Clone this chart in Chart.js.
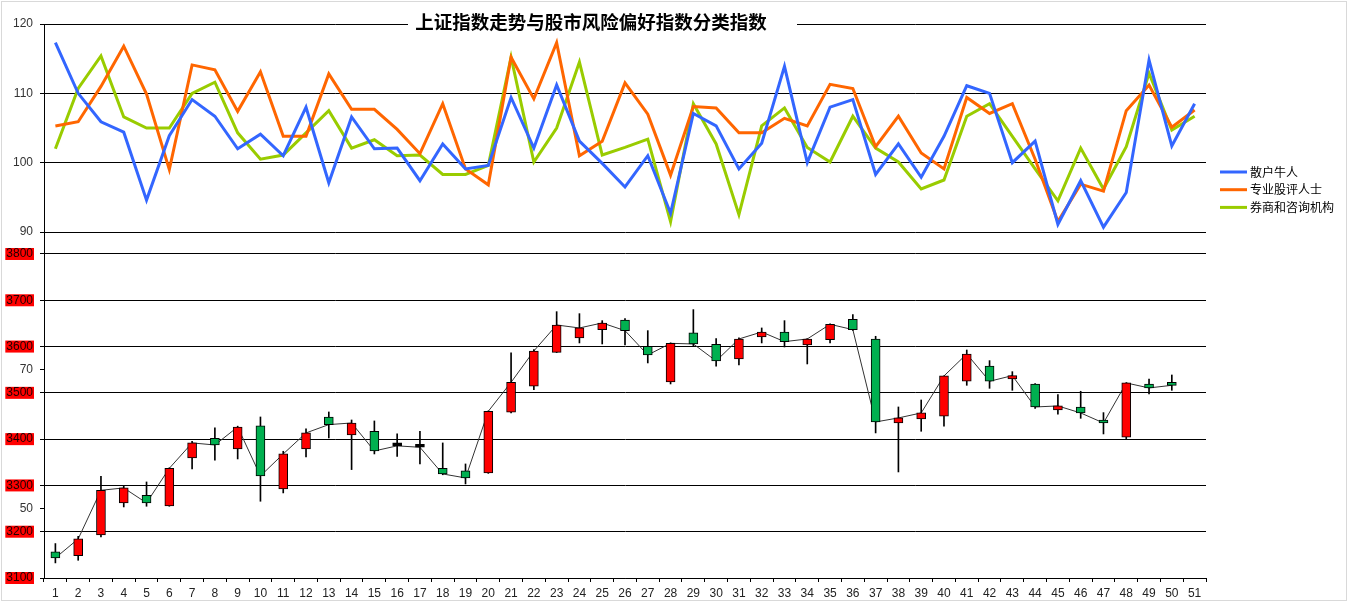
<!DOCTYPE html>
<html>
<head>
<meta charset="utf-8">
<script src="https://cdn.jsdelivr.net/npm/chart.js@4.4.1/dist/chart.umd.min.js"></script>
<style>
  body { margin: 0; background: #fff; }
  #wrap { width: 1350px; height: 602px; }
</style>
</head>
<body>
<div id="wrap"><canvas id="chart" width="1350" height="602"></canvas></div>
<script>
// x categories (trading days)
const days = ['1','2','3','4','5','6','7','8','9','10','11','12','13','14','15','16','17','18','19','20',
  '21','22','23','24','25','26','27','28','29','30','31','32','33','34','35','36','37','38','39','40',
  '41','42','43','44','45','46','47','48','49','50','51'];

// risk appetite indices (top panel)
const seriesNames = ['散户牛人', '专业股评人士', '券商和咨询机构'];
const retail = [117.3,110.0,105.9,104.4,94.6,103.9,109.1,106.7,102.0,104.1,
  101.0,108.0,97.1,106.6,102.0,102.1,97.4,102.7,99.1,99.6,
  109.4,102.1,111.2,103.1,99.9,96.5,101.0,92.7,107.1,105.3,
  99.1,102.8,113.9,100.0,108.0,109.1,98.3,102.7,97.9,103.8,
  111.1,110.0,100.0,103.1,91.1,97.4,90.7,95.7,114.8,102.4,108.5];
const analysts = [105.3,105.9,111.0,116.8,109.9,99.0,114.1,113.4,107.4,113.1,
  103.8,103.8,112.8,107.7,107.7,104.8,101.3,108.5,99.1,96.8,
  115.2,109.2,117.3,101.0,103.1,111.5,107.0,98.2,108.1,107.9,
  104.3,104.3,106.4,105.3,111.3,110.7,102.3,106.7,101.4,99.1,
  109.4,107.1,108.5,100.5,91.5,96.9,95.9,107.5,111.2,105.1,107.6];
const brokers = [102.0,110.7,115.4,106.6,105.0,105.0,110.0,111.6,104.3,100.5,
  101.1,104.3,107.5,102.1,103.3,101.0,101.1,98.3,98.3,99.6,
  115.2,100.1,105.0,114.5,101.1,102.2,103.4,91.5,108.5,102.7,
  92.5,105.3,107.9,102.2,100.1,106.7,102.1,100.1,96.2,97.5,
  106.7,108.5,103.8,99.1,94.5,102.1,96.2,102.3,112.9,104.7,106.7];
const seriesColors = ['#3366FF', '#FF6600', '#99CC00'];

// Shanghai composite daily OHLC (bottom panel)
const opens = [3156.4,3148.4,3193.0,3262.2,3278.7,3255.7,3359.4,3401.8,3378.8,3428.5,
  3292.4,3378.8,3447.9,3409.0,3417.0,3385.5,3382.4,3337.0,3331.3,3327.0,
  3458.0,3514.2,3587.6,3618.6,3636.6,3657.4,3600.6,3523.5,3629.4,3604.9,
  3573.2,3620.7,3631.5,3603.4,3614.9,3658.9,3616.4,3434.9,3443.6,3449.4,
  3525.0,3558.1,3530.0,3519.2,3463.0,3469.5,3440.7,3404.0,3519.2,3521.4];
const closes = [3143.4,3184.4,3289.5,3294.6,3262.2,3337.0,3391.8,3387.4,3426.3,3320.5,
  3368.0,3413.4,3431.4,3434.9,3374.5,3385.5,3382.4,3324.8,3316.2,3460.2,
  3522.8,3590.5,3646.6,3640.2,3651.0,3634.4,3581.8,3607.0,3605.6,3568.9,
  3616.4,3631.5,3610.6,3616.4,3648.1,3636.6,3437.1,3445.8,3456.6,3536.5,
  3584.0,3525.0,3537.2,3469.5,3471.7,3456.6,3434.9,3521.4,3510.6,3516.3];
const highs = [3174.4,3190.0,3319.8,3298.2,3307.5,3338.0,3395.4,3424.2,3428.0,3447.9,
  3373.8,3422.0,3458.7,3441.4,3439.3,3411.2,3417.0,3391.8,3346.4,3461.0,
  3586.2,3593.4,3675.4,3671.1,3656.0,3660.3,3634.4,3608.0,3679.8,3617.1,
  3618.6,3640.2,3656.0,3617.0,3649.0,3669.0,3622.2,3469.5,3484.6,3537.0,
  3592.6,3569.6,3545.8,3520.0,3496.2,3503.4,3457.3,3522.0,3530.0,3538.6];
const lows = [3132.6,3138.3,3188.7,3253.5,3255.0,3255.0,3335.6,3354.3,3357.2,3265.8,
  3283.8,3361.5,3402.6,3334.2,3368.0,3362.9,3346.4,3323.0,3303.2,3326.0,
  3456.6,3507.0,3587.0,3607.8,3605.6,3603.4,3564.6,3519.2,3602.0,3557.4,
  3560.2,3607.8,3599.1,3562.4,3607.8,3635.0,3413.4,3329.1,3417.0,3427.8,
  3516.3,3509.8,3505.5,3466.6,3453.7,3445.0,3411.2,3401.1,3497.6,3505.5];

// axis ticks
const indexTicks = [90, 100, 110, 120];
const priceTicks = [3100, 3200, 3250, 3300, 3400, 3500, 3550, 3600, 3700, 3800];
const oddPriceLabels = { 3250: '50', 3550: '70' };

const title = '上证指数走势与股市风险偏好指数分类指数';

const tickFont = { family: 'Liberation Sans', size: 12 };

const decor = {
  id: 'decor',
  afterDraw(chart) {
    const c = chart.ctx;
    c.save();
    // outer border
    c.strokeStyle = '#d9d9d9';
    c.lineWidth = 1;
    c.strokeRect(1.5, 1.5, 1345, 599);
    // title over the top grid line
    c.fillStyle = '#fff';
    c.fillRect(408, 12, 389, 20);
    c.fillStyle = '#000';
    c.font = 'bold 18.5px "Noto Sans CJK SC"';
    c.textAlign = 'center';
    c.textBaseline = 'middle';
    c.fillText(title, 591, 22);
    // legend
    c.font = '12px "Noto Sans CJK SC"';
    c.textAlign = 'left';
    seriesNames.forEach((name, i) => {
      const y = 172 + i * 17.7;
      c.strokeStyle = seriesColors[i];
      c.lineWidth = 3;
      c.beginPath();
      c.moveTo(1220, y);
      c.lineTo(1247, y);
      c.stroke();
      c.fillStyle = '#000';
      c.fillText(name, 1250, y);
    });
    c.restore();
  }
};

const lineSet = (label, data, color) => ({
  type: 'line', label, data, yAxisID: 'yIdx',
  borderColor: color, borderWidth: 3, pointRadius: 0, tension: 0, order: 1
});

const candleColor = i => closes[i] > opens[i] ? '#FF0000' : (closes[i] < opens[i] ? '#00B050' : '#000');

new Chart(document.getElementById('chart'), {
  data: {
    labels: days,
    datasets: [
      lineSet(seriesNames[0], retail, seriesColors[0]),
      lineSet(seriesNames[1], analysts, seriesColors[1]),
      lineSet(seriesNames[2], brokers, seriesColors[2]),
      {
        type: 'line', label: 'close', data: closes, yAxisID: 'yPx',
        borderColor: '#333', borderWidth: 1, pointRadius: 0, tension: 0, order: 6
      },
      {
        type: 'bar', label: 'wick', data: lows.map((l, i) => [l, highs[i]]), yAxisID: 'yPx',
        backgroundColor: '#000', borderWidth: 0, barThickness: 1, grouped: false, order: 5
      },
      {
        type: 'bar', label: 'body', data: opens.map((o, i) => [o, closes[i]]), yAxisID: 'yPx',
        backgroundColor: ctx => candleColor(ctx.dataIndex),
        borderColor: '#000', borderWidth: 1, borderSkipped: false,
        barThickness: 9, minBarLength: 3, grouped: false, order: 4
      }
    ]
  },
  options: {
    responsive: false,
    animation: false,
    layout: { padding: { left: 0, right: 144, top: 24, bottom: 0 } },
    plugins: { legend: { display: false }, title: { display: false }, tooltip: { enabled: false } },
    scales: {
      x: {
        type: 'category',
        offset: true,
        grid: { offset: true, drawOnChartArea: false, tickLength: 4, color: '#000' },
        border: { color: '#000' },
        ticks: { font: tickFont, color: '#222', autoSkip: false, maxRotation: 0, padding: 4 },
        afterFit: s => { s.height = 24; }
      },
      yPx: {
        type: 'linear', position: 'left', stack: 'main', stackWeight: 346,
        min: 3100, max: 3847.5,
        afterBuildTicks: s => { s.ticks = priceTicks.map(v => ({ value: v })); },
        grid: {
          color: ctx => (ctx.tick && oddPriceLabels[ctx.tick.value]) ? 'rgba(0,0,0,0)' : '#000',
          tickColor: '#000', tickLength: 4
        },
        border: { color: '#000' },
        ticks: {
          font: { family: 'Liberation Sans', size: 12, lineHeight: 1 },
          color: ctx => (ctx.tick && oddPriceLabels[ctx.tick.value]) ? '#333' : '#200000',
          padding: 7,
          autoSkip: false,
          showLabelBackdrop: ctx => !(ctx.tick && oddPriceLabels[ctx.tick.value]),
          backdropColor: '#FF0000',
          backdropPadding: { top: 0, bottom: 0, left: 1, right: 1 },
          callback: v => oddPriceLabels[v] || String(v)
        },
        afterFit: s => { s.width = 44; }
      },
      yIdx: {
        type: 'linear', position: 'left', stack: 'main', stackWeight: 208,
        min: 90, max: 120,
        afterBuildTicks: s => { s.ticks = indexTicks.map(v => ({ value: v })); },
        grid: { color: '#000', tickLength: 4 },
        border: { color: '#000' },
        ticks: { font: tickFont, color: '#333', padding: 7, autoSkip: false },
        afterFit: s => { s.width = 44; }
      }
    }
  },
  plugins: [decor]
});
</script>
</body>
</html>
